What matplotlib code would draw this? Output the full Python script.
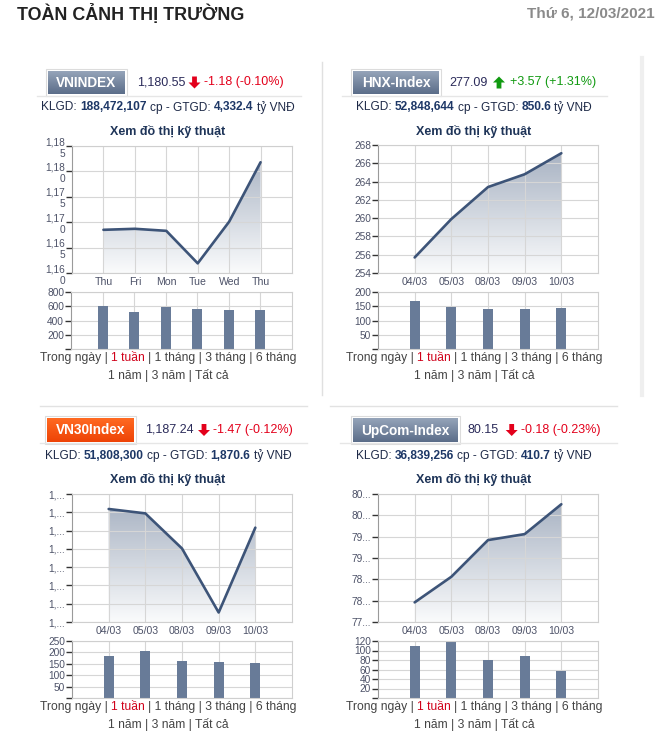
import numpy as np
import matplotlib
matplotlib.use('Agg')
import matplotlib.pyplot as plt
from matplotlib.patches import Polygon, Rectangle
from matplotlib.colors import LinearSegmentedColormap

plt.rcParams['font.family'] = ['Liberation Sans', 'DejaVu Sans']

W, H = 664, 738

# ---- data ----
vn_days = ['Thu', 'Fri', 'Mon', 'Tue', 'Wed', 'Thu']
vn_close = [1168.5, 1168.7, 1168.3, 1161.9, 1170.1, 1181.8]
vn_vol = [608, 523, 594, 566, 542, 552]
vn_yticks = [1160, 1165, 1170, 1175, 1180, 1185]
vn_ylabels = ['1,16\n0', '1,16\n5', '1,17\n0', '1,17\n5', '1,18\n0', '1,18\n5']
vn_voltix = [0, 200, 400, 600, 800]

dates = ['04/03', '05/03', '08/03', '09/03', '10/03']

hnx_close = [255.7, 259.9, 263.4, 264.8, 267.1]
hnx_vol = [169, 148, 141, 141, 145]
hnx_yticks = [254, 256, 258, 260, 262, 264, 266, 268]
hnx_voltix = [0, 50, 100, 150, 200]

vn30_close = [1185.9, 1184.7, 1175.1, 1157.6, 1180.8]
vn30_vol = [184, 206, 163, 158, 154]
vn30_yticks = [1155, 1160, 1165, 1170, 1175, 1180, 1185, 1190]
vn30_ylabels = ['1,...'] * 8
vn30_voltix = [0, 50, 100, 150, 200, 250]

upc_close = [77.96, 78.56, 79.42, 79.56, 80.26]
upc_vol = [109, 118, 80, 88, 57]
upc_yticks = [77.5, 78, 78.5, 79, 79.5, 80, 80.5]
upc_ylabels = ['77...', '78...', '78...', '79...', '79...', '80...', '80...']
upc_voltix = [0, 20, 40, 60, 80, 100, 120]

line_c = '#3d5478'
bar_c = '#687b98'
tick_c = '#4d5268'
fill_cmap = LinearSegmentedColormap.from_list('f', ['#fafbfc', '#a3aebf'])

fig = plt.figure(figsize=(W / 100, H / 100), dpi=100)
ov = fig.add_axes([0, 0, 1, 1])
ov.set_xlim(0, W)
ov.set_ylim(H, 0)
ov.axis('off')
rend = fig.canvas.get_renderer()


def px_axes(x0, y0, x1, y1):
    return fig.add_axes([x0 / W, 1 - y1 / H, (x1 - x0) / W, (y1 - y0) / H])


def style_axes(ax):
    ax.grid(True, color='#d6d6d6', lw=0.8)
    ax.set_axisbelow(True)
    for s in ['top', 'right', 'bottom']:
        ax.spines[s].set_color('#cfcfcf')
    ax.spines['left'].set_color('#9a9a9a')
    ax.tick_params(axis='y', length=4, width=1, color='#333333',
                   labelsize=7.3, labelcolor=tick_c, pad=1)
    ax.tick_params(axis='x', length=0, labelsize=7.6, labelcolor=tick_c, pad=3)


def line_chart(rect, labels, values, yticks, ylabels):
    ax = px_axes(*rect)
    n = len(labels)
    x = np.arange(n)
    lo, hi = yticks[0], yticks[-1]
    grad = np.linspace(0, 1, 256).reshape(-1, 1)
    im = ax.imshow(grad, extent=[-1, n, lo, hi], origin='lower', aspect='auto',
                   cmap=fill_cmap, zorder=0.2)
    poly = Polygon([(x[0], lo)] + list(zip(x, values)) + [(x[-1], lo)], closed=True,
                   facecolor='none', edgecolor='none', transform=ax.transData)
    ax.add_patch(poly)
    im.set_clip_path(poly)
    ax.plot(x, values, color=line_c, lw=1.9, zorder=3, solid_capstyle='round')
    ax.set_xlim(-1, n)
    ax.set_ylim(lo, hi)
    ax.set_xticks(x, labels)
    ax.set_yticks(yticks, ylabels)
    style_axes(ax)


def bar_chart(rect, values, yticks, width):
    ax = px_axes(*rect)
    n = len(values)
    x = np.arange(n)
    ax.bar(x, values, width=width, color=bar_c, zorder=2)
    ax.set_xlim(-1, n)
    ax.set_ylim(0, yticks[-1])
    ax.set_xticks(x, [''] * n)
    ax.set_yticks(yticks, [''] + [str(t) for t in yticks[1:]])
    style_axes(ax)


def run_text(x, y, parts, size=9, center=True):
    t1 = ov.text(0, 0, 'a a', fontsize=size)
    t2 = ov.text(0, 0, 'aa', fontsize=size)
    gap = t1.get_window_extent(rend).width - t2.get_window_extent(rend).width
    t1.remove()
    t2.remove()
    arts, widths = [], []
    for s, c, w in parts:
        t = ov.text(0, y, s, color=c, fontweight=w, fontsize=size, va='center', ha='left')
        arts.append(t)
        widths.append(t.get_window_extent(rend).width)
    total = sum(widths) + gap * (len(parts) - 1)
    cur = x - total / 2 if center else x
    for t, wd in zip(arts, widths):
        t.set_x(cur)
        cur += wd + gap


def label_box(x0, y0, x1, y1, text, top, bottom):
    ov.add_patch(Rectangle((x0 - 2, y0 - 2), x1 - x0 + 4, y1 - y0 + 4,
                           facecolor='white', edgecolor='#dcdcdc', lw=0.8))
    cm = LinearSegmentedColormap.from_list('b', [top, bottom])
    ov.imshow(np.linspace(0, 1, 64).reshape(-1, 1), extent=[x0, x1, y1, y0],
              cmap=cm, aspect='auto', origin='upper', zorder=2)
    ov.text((x0 + x1) / 2, (y0 + y1) / 2 + 0.5, text, color='white', fontsize=9.8,
            fontweight='bold', ha='center', va='center', zorder=3)


def arrow(cx, cy, up, color):
    s = -1 if up else 1
    v = [(cx - 2.4, cy - 6 * s), (cx + 2.4, cy - 6 * s), (cx + 2.4, cy), (cx + 6, cy),
         (cx, cy + 6 * s), (cx - 6, cy), (cx - 2.4, cy)]
    ov.add_patch(Polygon(v, closed=True, facecolor=color, edgecolor='none', zorder=3))


# ---- page header ----
ov.text(17, 14, 'TOÀN CẢNH THỊ TRƯỜNG', fontsize=12.9, fontweight='bold',
        color='#222222', va='center', ha='left')
ov.text(655, 14, 'Thứ 6, 12/03/2021', fontsize=11, fontweight='bold',
        color='#8a8a8a', va='center', ha='right')

# dividers
ov.plot([322, 322], [62, 395], color='#e0e0e0', lw=1)
ov.plot([642, 642], [58, 395], color='#efefef', lw=3)
ov.plot([40, 307], [406, 406], color='#e2e2e2', lw=1)
ov.plot([330, 617], [406, 406], color='#e2e2e2', lw=1)

red = '#e3001b'
green = '#119a11'
num_c = '#2b2b5a'
blue_top, blue_bot = '#95a4b9', '#5b6d89'

panels = [
    dict(box=(48, 71, 125, 94), name='VNINDEX', grad=(blue_top, blue_bot),
         price='1,180.55', px=137, ax_=194.5, tx=204.5, chg='-1.18 (-0.10%)', up=False,
         sep=(37, 301, 96), cx=168, kl_y=107.5, xem_y=131,
         vol='188,472,107', val='4,332.4', links_y=(358.3, 375.7)),
    dict(box=(353, 71, 439, 94), name='HNX-Index', grad=(blue_top, blue_bot),
         price='277.09', px=449, ax_=499, tx=509.5, chg='+3.57 (+1.31%)', up=True,
         sep=(342, 607, 96), cx=474, kl_y=107.5, xem_y=131,
         vol='52,848,644', val='850.6', links_y=(358.3, 375.7)),
    dict(box=(47, 418, 134, 442), name='VN30Index', grad=('#ff6a22', '#ee4306'),
         price='1,187.24', px=145, ax_=204, tx=213, chg='-1.47 (-0.12%)', up=False,
         sep=(40, 307, 443), cx=168, kl_y=456, xem_y=480,
         vol='51,808,300', val='1,870.6', links_y=(706.7, 724.3)),
    dict(box=(353, 418, 458, 442), name='UpCom-Index', grad=(blue_top, blue_bot),
         price='80.15', px=468, ax_=511.7, tx=521, chg='-0.18 (-0.23%)', up=False,
         sep=(340, 617, 443), cx=474, kl_y=456, xem_y=480,
         vol='36,839,256', val='410.7', links_y=(706.7, 724.3)),
]

for p in panels:
    x0, y0, x1, y1 = p['box']
    label_box(x0, y0, x1, y1, p['name'], *p['grad'])
    cy = (y0 + y1) / 2
    ov.text(p['px'], cy, p['price'], color=num_c, fontsize=9, va='center', ha='left')
    arrow(p['ax_'], cy, p['up'], green if p['up'] else red)
    ov.text(p['tx'], cy, p['chg'], color=green if p['up'] else red, fontsize=9,
            va='center', ha='left')
    a, b, ys = p['sep']
    ov.plot([a, b], [ys, ys], color='#e6e6e6', lw=1)
    run_text(p['cx'], p['kl_y'], [('KLGD:', '#1e2a48', 'normal'),
                                  (p['vol'], '#1d3766', 'bold'),
                                  ('cp - GTGD:', '#1e2a48', 'normal'),
                                  (p['val'], '#1d3766', 'bold'),
                                  ('tỷ VNĐ', '#1e2a48', 'normal')], size=8.6)
    ov.text(p['cx'], p['xem_y'], 'Xem đồ thị kỹ thuật', color='#1e3458', fontsize=9,
            fontweight='bold', ha='center', va='center')
    run_text(p['cx'], p['links_y'][0], [('Trong ngày |', '#444444', 'normal'),
                                        ('1 tuần', '#d0021b', 'normal'),
                                        ('| 1 tháng | 3 tháng | 6 tháng', '#444444', 'normal')],
             size=8.75)
    ov.text(p['cx'], p['links_y'][1], '1 năm | 3 năm | Tất cả', color='#444444',
            fontsize=8.75, ha='center', va='center')

# ---- charts ----
line_chart((72, 146, 292, 273), vn_days, vn_close, vn_yticks, vn_ylabels)
bar_chart((71, 292, 292, 349), vn_vol, vn_voltix, 0.32)

line_chart((378, 145, 598, 273), dates, hnx_close, hnx_yticks, [str(t) for t in hnx_yticks])
bar_chart((378, 292, 598, 349), hnx_vol, hnx_voltix, 0.28)

line_chart((72, 494, 292, 622), dates, vn30_close, vn30_yticks, vn30_ylabels)
bar_chart((72, 641, 292, 698), vn30_vol, vn30_voltix, 0.28)

line_chart((378, 494, 598, 622), dates, upc_close, upc_yticks, upc_ylabels)
bar_chart((378, 641, 598, 698), upc_vol, upc_voltix, 0.28)

fig.savefig('out.png', dpi=100)
